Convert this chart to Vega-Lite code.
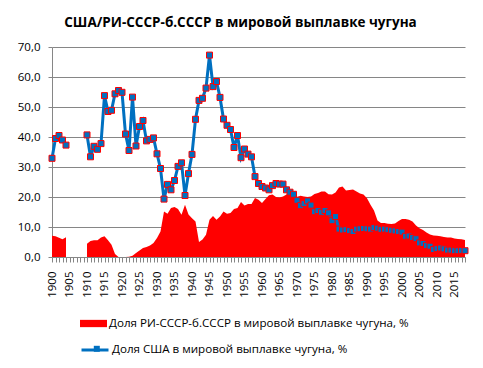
{
  "$schema": "https://vega.github.io/schema/vega-lite/v6.json",
  "autosize": {"type": "none"},
  "width": 413,
  "height": 210,
  "padding": {"left": 52, "top": 47, "right": 18, "bottom": 111},
  "background": "white",
  "title": {
    "text": "США/РИ-СССР-б.СССР в мировой выплавке чугуна",
    "font": "Open Sans",
    "fontSize": 13.5,
    "fontWeight": "bold",
    "color": "#000000",
    "anchor": "middle",
    "dx": -18,
    "offset": 12
  },
  "config": {
    "view": {"stroke": null},
    "font": "Open Sans",
    "axis": {"labelFont": "Open Sans", "labelFontSize": 11.5, "labelColor": "#000000"},
    "legend": {"labelFont": "Open Sans", "labelFontSize": 11.6, "labelColor": "#000000", "padding": 0, "labelLimit": 0}
  },
  "data": {
    "values": [
      {"year": 1900, "ri": 7.1, "usa": 32.9},
      {"year": 1901, "ri": 6.9, "usa": 39.5},
      {"year": 1902, "ri": 6.4, "usa": 40.5},
      {"year": 1903, "ri": 5.9, "usa": 39.0},
      {"year": 1904, "ri": 6.6, "usa": 37.3},
      {"year": 1905, "ri": null, "usa": null},
      {"year": 1906, "ri": null, "usa": null},
      {"year": 1907, "ri": null, "usa": null},
      {"year": 1908, "ri": null, "usa": null},
      {"year": 1909, "ri": null, "usa": null},
      {"year": 1910, "ri": 4.4, "usa": 40.7},
      {"year": 1911, "ri": 5.3, "usa": 33.4},
      {"year": 1912, "ri": 5.6, "usa": 36.9},
      {"year": 1913, "ri": 5.6, "usa": 35.9},
      {"year": 1914, "ri": 6.5, "usa": 37.8},
      {"year": 1915, "ri": 6.9, "usa": 53.8},
      {"year": 1916, "ri": 5.6, "usa": 48.5},
      {"year": 1917, "ri": 4.1, "usa": 48.9},
      {"year": 1918, "ri": 1.0, "usa": 54.4},
      {"year": 1919, "ri": 0.0, "usa": 55.5},
      {"year": 1920, "ri": 0.0, "usa": 54.9},
      {"year": 1921, "ri": 0.0, "usa": 41.0},
      {"year": 1922, "ri": 0.1, "usa": 35.5},
      {"year": 1923, "ri": 0.4, "usa": 53.3},
      {"year": 1924, "ri": 1.3, "usa": 37.0},
      {"year": 1925, "ri": 2.2, "usa": 43.5},
      {"year": 1926, "ri": 3.0, "usa": 45.5},
      {"year": 1927, "ri": 3.3, "usa": 38.7},
      {"year": 1928, "ri": 3.8, "usa": 39.2},
      {"year": 1929, "ri": 4.7, "usa": 39.7},
      {"year": 1930, "ri": 6.3, "usa": 34.4},
      {"year": 1931, "ri": 8.5, "usa": 29.5},
      {"year": 1932, "ri": 15.2, "usa": 19.3},
      {"year": 1933, "ri": 14.4, "usa": 24.2},
      {"year": 1934, "ri": 16.3, "usa": 22.4},
      {"year": 1935, "ri": 16.7, "usa": 25.5},
      {"year": 1936, "ri": 16.0, "usa": 30.2},
      {"year": 1937, "ri": 14.1, "usa": 31.4},
      {"year": 1938, "ri": 17.4, "usa": 20.5},
      {"year": 1939, "ri": 14.2, "usa": 27.8},
      {"year": 1940, "ri": 12.9, "usa": 34.2},
      {"year": 1941, "ri": 11.8, "usa": 45.9},
      {"year": 1942, "ri": 5.0, "usa": 52.2},
      {"year": 1943, "ri": 5.8, "usa": 52.9},
      {"year": 1944, "ri": 7.4, "usa": 56.3},
      {"year": 1945, "ri": 12.4, "usa": 67.3},
      {"year": 1946, "ri": 13.7, "usa": 56.8},
      {"year": 1947, "ri": 12.4, "usa": 58.5},
      {"year": 1948, "ri": 13.5, "usa": 53.2},
      {"year": 1949, "ri": 15.2, "usa": 46.0},
      {"year": 1950, "ri": 14.4, "usa": 43.9},
      {"year": 1951, "ri": 14.7, "usa": 42.5},
      {"year": 1952, "ri": 16.0, "usa": 36.5},
      {"year": 1953, "ri": 16.3, "usa": 40.5},
      {"year": 1954, "ri": 18.3, "usa": 33.1},
      {"year": 1955, "ri": 17.2, "usa": 36.0},
      {"year": 1956, "ri": 17.7, "usa": 34.3},
      {"year": 1957, "ri": 17.7, "usa": 33.4},
      {"year": 1958, "ri": 19.7, "usa": 26.8},
      {"year": 1959, "ri": 19.1, "usa": 24.5},
      {"year": 1960, "ri": 18.0, "usa": 23.5},
      {"year": 1961, "ri": 19.3, "usa": 23.0},
      {"year": 1962, "ri": 20.6, "usa": 22.4},
      {"year": 1963, "ri": 20.8, "usa": 23.8},
      {"year": 1964, "ri": 20.0, "usa": 24.5},
      {"year": 1965, "ri": 19.8, "usa": 24.3},
      {"year": 1966, "ri": 20.2, "usa": 24.3},
      {"year": 1967, "ri": 20.8, "usa": 22.4},
      {"year": 1968, "ri": 21.0, "usa": 21.6},
      {"year": 1969, "ri": 20.7, "usa": 20.9},
      {"year": 1970, "ri": 20.0, "usa": 18.9},
      {"year": 1971, "ri": 20.4, "usa": 17.1},
      {"year": 1972, "ri": 20.2, "usa": 17.8},
      {"year": 1973, "ri": 20.0, "usa": 18.7},
      {"year": 1974, "ri": 20.2, "usa": 17.3},
      {"year": 1975, "ri": 21.0, "usa": 15.1},
      {"year": 1976, "ri": 21.3, "usa": 15.5},
      {"year": 1977, "ri": 21.8, "usa": 14.9},
      {"year": 1978, "ri": 21.8, "usa": 15.5},
      {"year": 1979, "ri": 20.9, "usa": 14.7},
      {"year": 1980, "ri": 20.8, "usa": 12.1},
      {"year": 1981, "ri": 21.5, "usa": 13.5},
      {"year": 1982, "ri": 23.2, "usa": 9.3},
      {"year": 1983, "ri": 23.5, "usa": 9.0},
      {"year": 1984, "ri": 22.2, "usa": 9.1},
      {"year": 1985, "ri": 22.3, "usa": 8.8},
      {"year": 1986, "ri": 22.5, "usa": 8.5},
      {"year": 1987, "ri": 21.8, "usa": 9.3},
      {"year": 1988, "ri": 21.2, "usa": 9.4},
      {"year": 1989, "ri": 20.8, "usa": 9.5},
      {"year": 1990, "ri": 19.6, "usa": 9.4},
      {"year": 1991, "ri": 17.4, "usa": 9.3},
      {"year": 1992, "ri": 15.5, "usa": 9.8},
      {"year": 1993, "ri": 12.2, "usa": 9.6},
      {"year": 1994, "ri": 11.3, "usa": 9.2},
      {"year": 1995, "ri": 11.3, "usa": 9.3},
      {"year": 1996, "ri": 11.1, "usa": 9.1},
      {"year": 1997, "ri": 11.0, "usa": 8.9},
      {"year": 1998, "ri": 11.2, "usa": 8.7},
      {"year": 1999, "ri": 12.0, "usa": 8.5},
      {"year": 2000, "ri": 12.7, "usa": 8.3},
      {"year": 2001, "ri": 12.7, "usa": 6.9},
      {"year": 2002, "ri": 12.4, "usa": 7.0},
      {"year": 2003, "ri": 11.8, "usa": 6.5},
      {"year": 2004, "ri": 10.5, "usa": 6.1},
      {"year": 2005, "ri": 9.6, "usa": 4.7},
      {"year": 2006, "ri": 9.0, "usa": 4.5},
      {"year": 2007, "ri": 8.2, "usa": 3.8},
      {"year": 2008, "ri": 7.5, "usa": 3.6},
      {"year": 2009, "ri": 7.2, "usa": 2.5},
      {"year": 2010, "ri": 7.1, "usa": 2.8},
      {"year": 2011, "ri": 6.9, "usa": 3.0},
      {"year": 2012, "ri": 6.7, "usa": 2.7},
      {"year": 2013, "ri": 6.5, "usa": 2.3},
      {"year": 2014, "ri": 6.5, "usa": 2.3},
      {"year": 2015, "ri": 6.2, "usa": 2.1},
      {"year": 2016, "ri": 6.0, "usa": 2.1},
      {"year": 2017, "ri": 5.9, "usa": 2.2},
      {"year": 2018, "ri": 5.7, "usa": 2.1}
    ]
  },
  "encoding": {
    "x": {
      "field": "year",
      "type": "quantitative",
      "scale": {"domain": [1900, 2018], "nice": false, "zero": false},
      "axis": {
        "title": null,
        "grid": false,
        "values": [1900,1901,1902,1903,1904,1905,1906,1907,1908,1909,1910,1911,1912,1913,1914,1915,1916,1917,1918,1919,1920,1921,1922,1923,1924,1925,1926,1927,1928,1929,1930,1931,1932,1933,1934,1935,1936,1937,1938,1939,1940,1941,1942,1943,1944,1945,1946,1947,1948,1949,1950,1951,1952,1953,1954,1955,1956,1957,1958,1959,1960,1961,1962,1963,1964,1965,1966,1967,1968,1969,1970,1971,1972,1973,1974,1975,1976,1977,1978,1979,1980,1981,1982,1983,1984,1985,1986,1987,1988,1989,1990,1991,1992,1993,1994,1995,1996,1997,1998,1999,2000,2001,2002,2003,2004,2005,2006,2007,2008,2009,2010,2011,2012,2013,2014,2015,2016,2017,2018],
        "labelExpr": "datum.value % 5 === 0 ? '' + datum.value : ''",
        "labelAngle": 270,
        "labelOverlap": false,
        "labelFlush": false,
        "labelBound": false,
        "labelPadding": 9,
        "tickSize": 5,
        "tickColor": "#868686",
        "domainColor": "#868686",
        "domainWidth": 1
      }
    },
    "y": {
      "type": "quantitative",
      "scale": {"domain": [0, 70], "nice": false},
      "axis": {
        "title": null,
        "values": [0, 10, 20, 30, 40, 50, 60, 70],
        "labelExpr": "replace(format(datum.value, '.1f'), '.', ',')",
        "labelOverlap": false,
        "grid": true,
        "gridColor": "#868686",
        "gridWidth": 1,
        "domainColor": "#868686",
        "tickColor": "#868686",
        "tickSize": 4,
        "labelPadding": 8
      }
    }
  },
  "layer": [
    {
      "mark": {"type": "area", "opacity": 1},
      "encoding": {
        "y": {
          "field": "ri",
          "type": "quantitative",
          "stack": null,
          "scale": {"domain": [0, 70], "nice": false},
          "axis": {
            "title": null,
            "values": [0, 10, 20, 30, 40, 50, 60, 70],
            "labelExpr": "replace(format(datum.value, '.1f'), '.', ',')",
            "labelOverlap": false,
            "grid": true,
            "gridColor": "#868686",
            "gridWidth": 1,
            "domainColor": "#868686",
            "tickColor": "#868686",
            "tickSize": 4,
            "labelPadding": 8
          }
        },
        "fill": {
          "datum": "Доля РИ-СССР-б.СССР в мировой выплавке чугуна, %",
          "type": "nominal",
          "scale": {"range": ["#FF0000"]},
          "legend": {
            "title": null,
            "orient": "none",
            "legendX": 28,
            "legendY": 263,
            "symbolType": "M-1,-0.27H1V0.27H-1Z",
            "symbolSize": 729,
            "symbolStrokeWidth": 0,
            "labelOffset": 2
          }
        }
      }
    },
    {
      "mark": {"type": "line", "strokeWidth": 3},
      "encoding": {
        "y": {
          "field": "usa",
          "type": "quantitative",
          "scale": {"domain": [0, 70], "nice": false},
          "axis": {
            "title": null,
            "values": [0, 10, 20, 30, 40, 50, 60, 70],
            "labelExpr": "replace(format(datum.value, '.1f'), '.', ',')",
            "labelOverlap": false,
            "grid": true,
            "gridColor": "#868686",
            "gridWidth": 1,
            "domainColor": "#868686",
            "tickColor": "#868686",
            "tickSize": 4,
            "labelPadding": 8
          }
        },
        "stroke": {
          "datum": "Доля США в мировой выплавке чугуна, %",
          "type": "nominal",
          "scale": {"range": ["#0070C0"]},
          "legend": {
            "title": null,
            "orient": "none",
            "legendX": 28,
            "legendY": 288,
            "symbolType": "stroke",
            "symbolSize": 729,
            "symbolStrokeWidth": 3,
            "labelOffset": 2
          }
        }
      }
    },
    {
      "mark": {"type": "point", "shape": "square", "filled": true, "fill": "#0070C0", "stroke": "#FF0000", "strokeWidth": 1, "size": 36, "opacity": 1},
      "encoding": {
        "y": {
          "field": "usa",
          "type": "quantitative",
          "scale": {"domain": [0, 70], "nice": false},
          "axis": {
            "title": null,
            "values": [0, 10, 20, 30, 40, 50, 60, 70],
            "labelExpr": "replace(format(datum.value, '.1f'), '.', ',')",
            "labelOverlap": false,
            "grid": true,
            "gridColor": "#868686",
            "gridWidth": 1,
            "domainColor": "#868686",
            "tickColor": "#868686",
            "tickSize": 4,
            "labelPadding": 8
          }
        },
        "shape": {
          "datum": "маркер",
          "type": "nominal",
          "scale": {"range": ["square"]},
          "legend": {
            "title": null,
            "orient": "none",
            "legendX": 39,
            "legendY": 296,
            "symbolSize": 36,
            "symbolFillColor": "#0070C0",
            "symbolStrokeColor": "#FF0000",
            "symbolStrokeWidth": 1,
            "symbolOpacity": 1,
            "labelExpr": "''"
          }
        }
      }
    }
  ]
}
